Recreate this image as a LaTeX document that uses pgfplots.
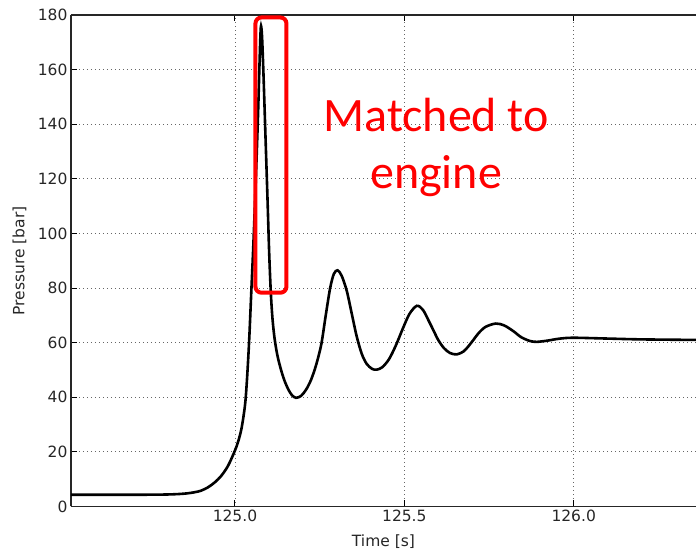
\documentclass[border=0pt]{standalone}
\usepackage{pgfplots}
\pgfplotsset{compat=1.18}
\usepackage{fontspec}
\setmainfont{DejaVu Sans}
\newfontfamily\calib{Carlito}
\begin{document}
\begin{tikzpicture}
\begin{axis}[
 scale only axis, width=625pt, height=491.5pt,
 xmin=124.516, xmax=126.361, ymin=0, ymax=180,
 axis x line*=box, axis y line*=left,
 xtick={125,125.5,126}, ytick={0,20,...,180},
 xticklabel style={/pgf/number format/.cd, fixed, fixed zerofill, precision=1},
 /pgf/number format/assume math mode=true,
 tick label style={font=\fontsize{15.5}{18}\selectfont, black!85},
 label style={font=\fontsize{15.5}{18}\selectfont, black!85},
 grid=major, grid style={black!60, line width=0.8pt, dash pattern=on 0.8pt off 3.2pt},
 major tick length=6pt, tick style={black, line width=1pt},
 axis line style={line width=1.3pt, black!85},
 xlabel={Time [s]}, ylabel={Pressure [bar]},
 xlabel style={at={(rel axis cs:0.5,-0.0723)}, anchor=center},
 ylabel style={at={(rel axis cs:-0.0824,0.5)}, anchor=center},
]
\coordinate (ll) at (rel axis cs:0,0);
\addplot[black, line width=2.6pt, smooth, tension=0.5] coordinates {
(124.516,4.3) (124.70,4.3) (124.80,4.4) (124.85,4.7) (124.88,5.2) (124.90,5.8)
(124.92,7.0) (124.94,8.8) (124.96,11.3) (124.98,15) (125.00,20.5) (125.01,24)
(125.02,29) (125.03,37.5) (125.036,47.5) (125.042,61) (125.048,78) (125.055,98)
(125.062,121) (125.068,143) (125.072,160) (125.075,172) (125.077,176) (125.080,172)
(125.084,159) (125.090,136) (125.096,113) (125.101,93) (125.106,78) (125.111,68.5)
(125.117,61.5) (125.125,55.5) (125.135,50.5) (125.145,46.5) (125.157,43) (125.168,40.8)
(125.180,39.8) (125.195,40.5) (125.21,42.8) (125.225,46.5) (125.24,52) (125.255,59.5)
(125.268,70) (125.281,80) (125.292,85.2) (125.303,86.5) (125.315,84.5) (125.330,79)
(125.345,70.5) (125.359,62.5) (125.374,56) (125.389,52.2) (125.405,50.4) (125.418,50.1)
(125.435,51) (125.455,54) (125.475,59) (125.495,65) (125.515,70.5) (125.537,73.5)
(125.555,72) (125.572,68) (125.586,64.5) (125.600,61) (125.617,58) (125.635,56.2)
(125.655,55.7) (125.675,56.8) (125.690,58.8) (125.705,61.2) (125.72,63.6) (125.74,65.8)
(125.77,67) (125.795,66.3) (125.822,64.2) (125.845,62) (125.871,60.6) (125.891,60.3)
(125.92,60.7) (125.96,61.5) (126.0,61.8) (126.1,61.5) (126.2,61.2) (126.361,61.0)
};
\draw[red, line width=4pt, rounded corners=6pt] (axis cs:125.0605,78.3) rectangle (axis cs:125.152,179.1);
\node[red, anchor=base, font=\calib\fontsize{48}{58}\selectfont] at (axis cs:125.594,137.2) {Matched to};
\node[red, anchor=base, font=\calib\fontsize{48}{58}\selectfont] at (axis cs:125.594,116.5) {engine};
\end{axis}
\pgfresetboundingbox
\path[use as bounding box] (ll) ++(-71pt,-44.5pt) rectangle ++(696pt,551pt);
\end{tikzpicture}
\end{document}
